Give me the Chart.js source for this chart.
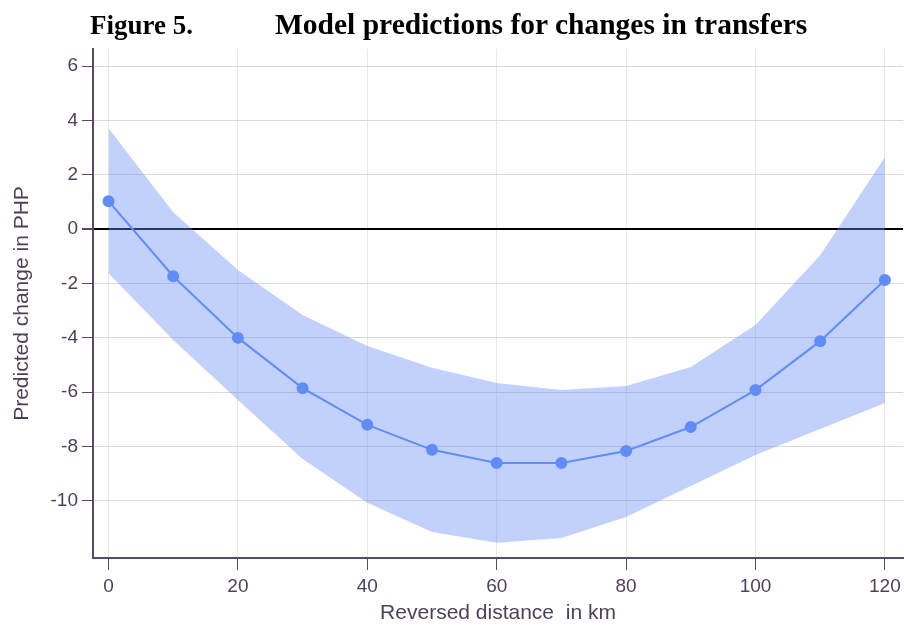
<!DOCTYPE html>
<html>
<head>
<meta charset="utf-8">
<script src="https://cdn.jsdelivr.net/npm/chart.js@4"></script>
<style>
  body { margin: 0; background: #fff; }
  #wrap { position: relative; width: 904px; height: 626px; }
  .ttl { position: absolute; font-family: "Liberation Serif", "Times New Roman", serif; font-weight: bold; color: #000; white-space: nowrap; line-height: 1; }
</style>
</head>
<body>
<div id="wrap">
  <div class="ttl" style="left:90px; top:12px; font-size:27px">Figure 5.</div>
  <div class="ttl" style="left:275px; top:10px; font-size:29.5px">Model predictions for changes in transfers</div>
  <canvas id="myChart" width="904" height="626"></canvas>
</div>
<script>
// reversed distance (km)
const distances = [0, 10, 20, 30, 40, 50, 60, 70, 80, 90, 100, 110, 120];
// predicted change and 95% band
const predicted = [1.03, -1.73, -4.0, -5.85, -7.2, -8.12, -8.6, -8.6, -8.16, -7.28, -5.92, -4.12, -1.87];
const upper = [3.71, 0.62, -1.5, -3.16, -4.3, -5.1, -5.66, -5.92, -5.77, -5.07, -3.53, -0.96, 2.65];
const lower = [-1.62, -4.08, -6.29, -8.46, -10.07, -11.14, -11.54, -11.36, -10.59, -9.45, -8.31, -7.35, -6.4];
const xTicks = [0, 20, 40, 60, 80, 100, 120];
const yTicks = [-10, -8, -6, -4, -2, 0, 2, 4, 6];

const axisColor = '#5a4866';
const textColor = '#4e3f5a';

let ctx = document.getElementById("myChart");

const pts = arr => distances.map((d, i) => ({x: d, y: arr[i]}));

new Chart(ctx, {
    type: 'line',
    data: {
        datasets: [
            {
                label: 'Predicted',
                data: pts(predicted),
                borderColor: '#5f8cf6',
                backgroundColor: '#5f8cf6',
                borderWidth: 2,
                pointRadius: 5,
                pointHoverRadius: 5,
                fill: false
            },
            {
                label: 'upper',
                data: pts(upper),
                borderWidth: 0,
                pointRadius: 0,
                backgroundColor: 'rgba(100,140,245,0.4)',
                fill: '+1'
            },
            {
                label: 'lower',
                data: pts(lower),
                borderWidth: 0,
                pointRadius: 0,
                fill: false
            }
        ]
    },
    options: {
        responsive: false,
        animation: false,
        layout: { autoPadding: false, padding: { top: 49, right: 1, left: 0, bottom: 0 } },
        plugins: { legend: { display: false }, tooltip: { enabled: false } },
        scales: {
            x: {
                type: 'linear',
                min: -2.4,
                max: 122.8,
                afterBuildTicks: s => { s.ticks = xTicks.map(v => ({value: v})); },
                afterFit: s => { s.height = 68; s.paddingRight = 0; s.paddingLeft = 0; },
                border: { color: axisColor, width: 2 },
                grid: { color: '#ebe9e6', tickColor: axisColor, tickLength: 12, lineWidth: 1 },
                ticks: { color: textColor, font: { family: 'Liberation Sans, Arial', size: 19 }, padding: 5 },
                title: { display: true, text: 'Reversed distance  in km', color: textColor,
                         font: { family: 'Liberation Sans, Arial', size: 21 }, padding: { top: 0, bottom: 0 } }
            },
            y: {
                min: -12.1,
                max: 6.63,
                afterBuildTicks: s => { s.ticks = yTicks.map(v => ({value: v})); },
                afterFit: s => { s.width = 93; },
                border: { color: axisColor, width: 2 },
                grid: {
                    color: c => c.tick && c.tick.value === 0 ? '#000' : '#dedad3',
                    lineWidth: c => c.tick && c.tick.value === 0 ? 2 : 1,
                    tickColor: axisColor,
                    tickLength: 11
                },
                ticks: { color: textColor, font: { family: 'Liberation Sans, Arial', size: 19 }, padding: 4 },
                title: { display: true, text: 'Predicted change in PHP', color: textColor,
                         font: { family: 'Liberation Sans, Arial', size: 21 }, padding: { top: 10, bottom: 0 } }
            }
        }
    }
});
</script>
</body>
</html>
